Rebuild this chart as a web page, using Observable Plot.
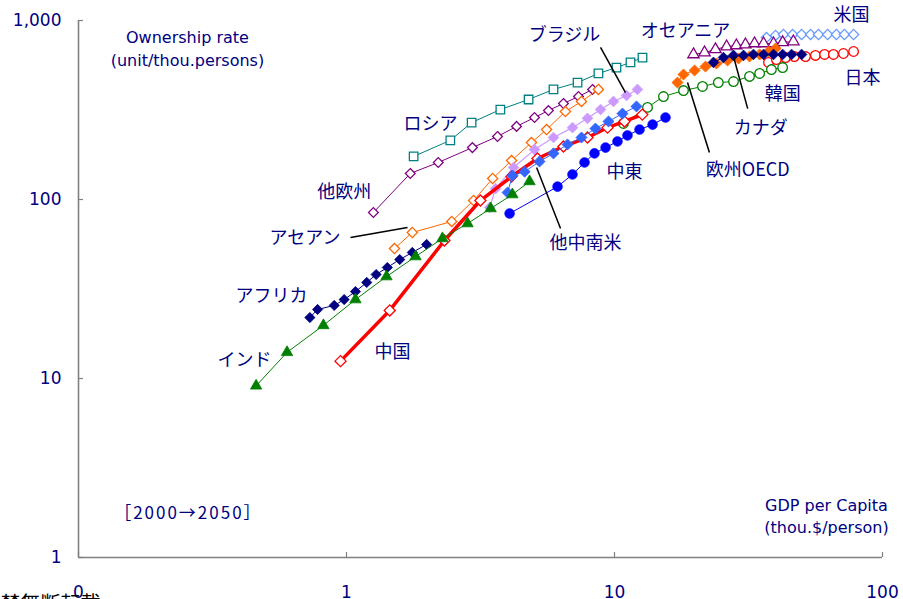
<!DOCTYPE html>
<html><head><meta charset="utf-8">
<script src="https://cdn.jsdelivr.net/npm/d3@7"></script>
<script src="https://cdn.jsdelivr.net/npm/@observablehq/plot@0.6"></script>
<style>body{margin:0;background:#fff;} #chart{width:903px;height:599px;overflow:hidden} .period text{letter-spacing:2px}</style>
</head><body><div id="chart"></div>
<script>
// ---- data (GDP per capita, thou.$/person ; ownership rate, unit/thou.persons), 2000→2050
const gdp_India = [0.46,0.60,0.82,1.08,1.41,1.81,2.28,2.83,3.45,4.16,4.82];
const rate_India = [9.1,14.0,19.8,27.6,37.1,48.0,60.6,73.4,89.1,106.6,126.1];
const gdp_China = [0.95,1.45,2.32,3.16,4.13,5.16,6.45,7.93,9.42,10.9,12.7];
const rate_China = [12.5,24.0,59.0,98.7,134.5,169.4,197.8,222,252,273,298];
const gdp_Africa = [0.73,0.78,0.90,0.98,1.08,1.19,1.29,1.42,1.58,1.76,1.99];
const rate_Africa = [21.9,24.3,25.6,27.6,30.6,34.4,38.1,41.7,46.2,50.6,56.1];
const gdp_ASEAN = [1.51,1.76,2.47,2.98,3.51,4.13,4.90,5.58,6.56,7.53,8.71];
const rate_ASEAN = [53.2,65.4,75.4,98.7,131,165,208,246,310,353,412];
const gdp_OtherEurope = [1.26,1.73,2.20,2.95,3.66,4.31,5.03,5.67,6.45,7.34,8.28];
const rate_OtherEurope = [84.6,139.8,161,195,225,256,287,314,344,376,412];
const gdp_Russia = [1.78,2.44,2.93,3.75,4.78,5.92,7.28,8.71,10.17,11.47,12.72];
const rate_Russia = [174,214,269,318,362,412,450,506,546,583,621];
const gdp_Brazil = [3.42,3.60,4.20,5.03,5.92,6.97,7.93,8.87,9.91,11.09,12.18];
const rate_Brazil = [90.2,115,151,190,222,252,284,318,353,381,412];
const gdp_OtherLatAm = [3.99,4.16,4.62,5.25,5.92,6.68,7.53,8.49,9.50,10.71,12.08];
const rate_OtherLatAm = [109.4,136,143,163,181,203,222,249,273,302,331];
const gdp_MiddleEast = [4.06,6.13,6.97,7.73,8.42,9.26,10.26,11.18,12.40,13.87,15.50];
const rate_MiddleEast = [83.5,118,138,161,181,195,211,228,246,262,287];
const gdp_Korea = [10.8,13.28,15.23,18.09,21.3,24.4,27.8,31.9,34.8,38.5,42.4];
const rate_Korea = [266,327,376,406,428,450,456,487,506,532,546];
const gdp_EuropeOECD = [17.18,18.09,19.89,21.86,24.02,26.41,29.02,31.9,34.8,37.55,39.9];
const rate_EuropeOECD = [450,499,526,553,575,598,613,629,646,671,698];
const gdp_Canada = [23.4,25.5,27.8,30.3,33.0,36.0,39.2,42.4,45.8,49.9];
const rate_Canada = [583,621,638,638,646,646,646,646,646,646];
const gdp_Japan = [37.55,40.2,43.5,46.9,51.6,56.2,60.8,65.6,71.5,78.0];
const rate_Japan = [583,605,621,629,629,638,646,646,654,671];
const gdp_USA = [36.9,39.9,42.7,46.2,49.9,53.9,57.7,62.4,67.3,72.1,78.0];
const rate_USA = [803,825,835,835,835,835,835,835,835,835,835];
const gdp_Oceania = [19.71,21.67,23.8,26.2,28.5,30.8,33.3,36.0,39.2,42.4,46.5];
const rate_Oceania = [646,662,689,715,725,734,744,744,744,754,763];

// axis ticks
const xTicks = [0.1, 1, 10, 100];
const xTickLabels = ["0", "1", "10", "100"];
const yTicks = [1, 10, 100, 1000];
const yTickLabels = ["1", "10", "100", "1,000"];

// series labels (placed in data coordinates)
const labelText = ["ブラジル","オセアニア","米国","日本","韓国","カナダ","欧州OECD","中東","他中南米","ロシア","他欧州","アセアン","アフリカ","インド","中国"];
const labelX = [6.51,18.4,76.6,84.2,42.4,35.1,31.4,10.9,7.80,2.06,0.98,0.70,0.525,0.416,1.485];
const labelY = [825,868,1067,474,386,249,145,141.5,56.8,262,109.4,60.6,28.7,12.6,13.97];

// leader lines
const leaderX1 = [8.87, 27.8, 18.73, 5.12, 1.035];
const leaderY1 = [707, 629, 450, 150.9, 61.4];
const leaderX2 = [10.99, 31.4, 22.6, 6.29, 1.689];
const leaderY2 = [396, 322, 183, 68.9, 69.8];

// notes
const noteText = ["Ownership rate", "(unit/thou.persons)", "GDP per Capita", "(thou.$/person)"];
const noteX = [0.255, 0.255, 61.8, 61.8];
const noteY = [803, 598, 1.95, 1.47];
const periodText = ["［2000→2050］"];
const periodX = [0.257];
const periodY = [1.76];

// ---- styles
const NAVY = "#000080";
const series = [
  {gdp: gdp_USA, rate: rate_USA, color: "#6699ff", symbol: "diamond2", hollow: true, r: 4.6, w: 1},
  {gdp: gdp_Oceania, rate: rate_Oceania, color: "#800080", symbol: "triangle", hollow: true, r: 4.2, w: 1},
  {gdp: gdp_Japan, rate: rate_Japan, color: "#ff0000", symbol: "circle", hollow: true, r: 4.8, w: 1},
  {gdp: gdp_EuropeOECD, rate: rate_EuropeOECD, color: "#ff6600", symbol: "diamond2", hollow: false, r: 5, w: 1},
  {gdp: gdp_Canada, rate: rate_Canada, color: "#000080", symbol: "diamond2", hollow: false, r: 4.8, w: 1},
  {gdp: gdp_Korea, rate: rate_Korea, color: "#008000", symbol: "circle", hollow: true, r: 4.8, w: 1},
  {gdp: gdp_Russia, rate: rate_Russia, color: "#008080", symbol: "square", hollow: true, r: 4.8, w: 1},
  {gdp: gdp_OtherEurope, rate: rate_OtherEurope, color: "#800080", symbol: "diamond2", hollow: true, r: 4.4, w: 1},
  {gdp: gdp_ASEAN, rate: rate_ASEAN, color: "#ff6600", symbol: "diamond2", hollow: true, r: 4.6, w: 1},
  {gdp: gdp_Brazil, rate: rate_Brazil, color: "#cc99ff", symbol: "diamond2", hollow: false, r: 4.8, w: 1.2},
  {gdp: gdp_China, rate: rate_China, color: "#ff0000", symbol: "diamond2", hollow: true, r: 5, w: 3.5},
  {gdp: gdp_OtherLatAm, rate: rate_OtherLatAm, color: "#3366ff", symbol: "diamond2", hollow: false, r: 5, w: 1},
  {gdp: gdp_MiddleEast, rate: rate_MiddleEast, color: "#0000ff", symbol: "circle", hollow: false, r: 4.8, w: 1},
  {gdp: gdp_Africa, rate: rate_Africa, color: "#000080", symbol: "diamond2", hollow: false, r: 4.6, w: 1},
  {gdp: gdp_India, rate: rate_India, color: "#008000", symbol: "triangle", hollow: false, r: 4.2, w: 1}
];

const seriesMarks = series.flatMap(s => {
  const rows = s.gdp.map((g, i) => ({gdp: g, rate: s.rate[i]}));
  return [
    Plot.line(rows, {x: "gdp", y: "rate", stroke: s.color, strokeWidth: s.w}),
    Plot.dot(rows, {x: "gdp", y: "rate", symbol: s.symbol, r: s.r,
      fill: s.hollow ? "white" : s.color, stroke: s.color, strokeWidth: s.hollow ? 1.3 : 0.8})
  ];
});

const labels = labelText.map((t, i) => ({t, x: labelX[i], y: labelY[i]}));
const leaders = leaderX1.map((x1, i) => ({x1, y1: leaderY1[i], x2: leaderX2[i], y2: leaderY2[i]}));
const notes = noteText.map((t, i) => ({t, x: noteX[i], y: noteY[i]}));
const period = periodText.map((t, i) => ({t, x: periodX[i], y: periodY[i]}));
const xFmt = new Map(xTicks.map((d, i) => [d, xTickLabels[i]]));
const yFmt = new Map(yTicks.map((d, i) => [d, yTickLabels[i]]));
const LATIN = "'DejaVu Sans', sans-serif";

const chart = Plot.plot({
  width: 903, height: 599,
  marginLeft: 78, marginRight: 21, marginTop: 20, marginBottom: 42,
  style: {fontFamily: "'Noto Sans CJK JP', sans-serif", fontSize: "16px", background: "white", overflow: "hidden"},
  x: {type: "log", domain: [0.1, 100]},
  y: {type: "log", domain: [1, 1000]},
  marks: [
    Plot.ruleX([0.1], {stroke: "#808080", strokeWidth: 1.6}),
    Plot.ruleY([1], {stroke: "#808080", strokeWidth: 1.6}),
    Plot.axisX({ticks: xTicks, tickSize: -5, stroke: "#808080", strokeWidth: 1.2, fill: "none", label: null}),
    Plot.axisY({ticks: yTicks, tickSize: -5, stroke: "#808080", strokeWidth: 1.2, fill: "none", label: null}),
    Plot.axisX({ticks: xTicks, tickSize: 0, tickPadding: 28, tickFormat: d => xFmt.get(d), fill: NAVY, fontSize: 17, fontFamily: LATIN, label: null}),
    Plot.axisY({ticks: yTicks, tickSize: 0, tickPadding: 17, tickFormat: d => yFmt.get(d), fill: NAVY, fontSize: 17, fontFamily: LATIN, label: null}),
    ...seriesMarks,
    Plot.link(leaders, {x1: "x1", y1: "y1", x2: "x2", y2: "y2", stroke: "black", strokeWidth: 1.5}),
    Plot.text(labels, {x: "x", y: "y", text: "t", fill: NAVY, fontSize: 18, clip: false}),
    Plot.text(notes, {x: "x", y: "y", text: "t", fill: NAVY, fontSize: 16, fontFamily: LATIN}),
    Plot.text(period, {x: "x", y: "y", text: "t", fill: NAVY, fontSize: 17, className: "period"}),
    Plot.text(["禁無断転載"], {frameAnchor: "bottom-left", dx: -78, dy: 53, textAnchor: "start", fill: "black", fontSize: 20})
  ]
});
document.getElementById("chart").appendChild(chart);
</script></body></html>
